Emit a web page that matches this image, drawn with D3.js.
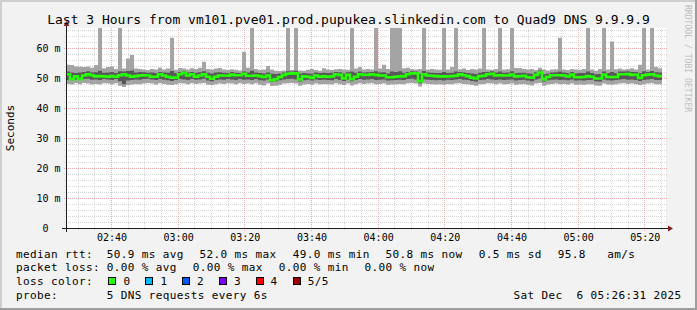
<!DOCTYPE html>
<html><head><meta charset="utf-8">
<script src="https://cdn.jsdelivr.net/npm/d3@7"></script>
<style>
html,body{margin:0;padding:0;background:#f2f2f2;}
svg{display:block;}
text{font-family:'DejaVu Sans Mono',monospace;white-space:pre;}
</style></head><body>
<svg id="c" width="697" height="310"></svg>
<script>
// ---------- data ----------
const titleText = "Last 3 Hours from vm101.pve01.prod.pupukea.slinkedin.com to Quad9 DNS 9.9.9.9";
const yAxisTitle = "Seconds";
const watermark = "RRDTOOL / TOBI OETIKER";
const startTime = new Date(2025, 11, 6, 2, 26, 31);
const endTime = new Date(2025, 11, 6, 5, 26, 31);
const stepSeconds = 72;
const yMax = 200 / 3;

// median rtt per step (ms)
const median = [
51.4,49.8,50.7,49.8,51.0,51.4,51.1,50.7,50.8,50.7,
50.6,50.8,50.6,51.1,51.4,51.0,50.6,50.8,51.0,51.1,
51.0,50.6,50.6,51.4,51.0,50.6,50.3,50.3,51.4,51.9,
51.0,51.4,50.6,51.0,51.4,50.6,49.9,50.6,51.0,51.0,
50.9,51.3,51.1,51.1,51.6,50.9,50.9,51.0,50.8,50.5,
51.0,49.4,49.8,50.5,51.2,51.6,51.7,51.7,49.7,50.7,
50.6,50.2,51.0,50.6,50.7,50.6,50.7,51.4,51.2,50.0,
51.2,49.8,50.6,51.4,51.2,51.2,51.4,51.2,51.0,51.0,
50.4,50.4,50.6,50.7,50.8,51.4,51.7,51.7,49.1,51.4,
51.0,50.9,50.8,50.7,50.7,50.7,50.8,50.9,51.4,51.1,
50.8,50.3,50.0,50.8,50.9,51.4,51.6,51.0,51.1,51.0,
51.0,51.3,50.7,50.8,50.9,50.4,50.3,51.2,52.0,49.7,
50.5,51.1,51.1,51.1,51.0,50.7,51.3,50.4,50.4,50.5,
50.8,50.6,50.0,50.0,51.3,50.5,50.5,50.5,51.4,51.4,
51.5,51.2,51.3,50.2,51.1,51.3,51.4,51.0,50.8];

// fastest reply per step (ms)
const ping1 = [
48.2,48.0,48.4,48.1,48.5,48.3,48.0,48.2,48.0,48.4,
48.3,48.1,48.4,47.6,47.2,47.8,48.0,48.2,48.1,48.3,
48.5,48.3,48.0,48.4,48.2,47.9,47.8,48.1,48.4,48.3,
48.1,48.4,48.2,48.3,48.5,47.9,47.8,48.1,48.3,48.2,
48.4,48.3,48.1,48.4,48.2,48.3,48.1,48.4,47.9,47.7,
48.3,47.5,47.6,47.9,48.3,48.4,48.5,48.3,47.6,48.0,
48.2,47.9,48.3,48.1,48.2,48.1,48.0,48.4,48.1,47.8,
48.3,47.7,48.1,48.4,48.2,48.3,48.4,48.1,48.2,48.3,
47.9,48.0,48.1,48.2,48.1,48.4,48.5,48.3,47.3,48.3,
48.2,48.1,48.0,48.1,47.9,48.2,48.1,48.3,48.4,48.2,
48.1,47.8,47.6,48.1,48.2,48.4,48.3,48.1,48.3,48.1,
48.2,48.3,47.9,48.1,48.2,47.9,47.7,48.3,48.5,47.6,
48.0,48.2,48.3,48.1,48.2,48.0,48.3,47.9,48.0,47.9,
48.1,48.1,47.7,47.6,48.3,48.0,47.9,48.1,48.3,48.4,
48.2,48.3,48.1,47.8,48.1,48.3,48.4,48.1,48.1];

// second fastest reply per step (ms)
const ping2 = [
49.5,49.4,49.7,49.5,49.8,49.9,49.6,49.7,49.5,49.8,
49.7,49.5,49.8,49.1,48.1,49.3,49.5,49.7,49.6,49.8,
49.9,49.7,49.5,49.8,49.6,49.4,49.2,49.5,49.8,49.7,
49.5,49.8,49.6,49.7,49.9,49.3,49.1,49.5,49.7,49.6,
49.8,49.7,49.5,49.8,49.6,49.7,49.5,49.8,49.4,49.3,
49.7,48.9,49.1,49.4,49.7,49.8,49.9,49.7,49.0,49.4,
49.6,49.3,49.7,49.5,49.6,49.5,49.4,49.8,49.5,49.2,
49.7,49.1,49.5,49.8,49.6,49.7,49.8,49.5,49.6,49.7,
49.3,49.4,49.5,49.6,49.5,49.8,49.9,49.7,48.4,49.7,
49.6,49.5,49.4,49.5,49.3,49.6,49.5,49.7,49.8,49.6,
49.5,49.2,49.0,49.5,49.6,49.8,49.7,49.5,49.7,49.5,
49.6,49.7,49.3,49.5,49.6,49.3,49.1,49.7,49.9,49.0,
49.4,49.6,49.7,49.5,49.6,49.4,49.7,49.3,49.4,49.3,
49.5,49.5,49.1,49.0,49.7,49.4,49.3,49.5,49.7,49.8,
49.6,49.7,49.5,49.2,49.5,49.7,49.8,49.5,49.5];

// fourth reply per step (ms)
const ping4 = [
52.3,52.0,51.8,52.0,52.2,52.4,52.0,52.1,52.6,51.9,
52.0,52.2,51.8,52.4,52.3,52.5,52.7,52.0,52.2,52.1,
51.9,52.0,51.8,52.2,52.0,51.9,52.5,51.8,52.2,52.4,
52.0,52.2,51.9,52.1,52.4,51.9,51.7,52.0,52.1,51.9,
51.8,52.2,51.9,51.8,52.3,52.0,52.6,52.0,51.8,51.7,
52.0,51.6,51.5,51.7,52.0,52.4,52.3,52.6,51.6,51.8,
51.7,51.6,52.0,51.8,51.9,51.8,51.9,52.2,52.1,51.7,
52.1,52.3,51.9,52.3,52.0,52.1,52.2,52.4,52.0,52.1,
51.7,52.3,52.2,52.4,51.9,52.2,52.4,52.3,51.5,52.5,
52.0,51.9,51.8,51.8,52.2,51.8,51.9,52.3,52.2,52.0,
51.8,51.7,51.5,51.9,52.2,52.2,52.4,52.0,52.3,51.9,
52.0,52.4,51.8,51.9,51.9,51.7,51.6,52.1,52.7,51.4,
51.7,52.0,52.1,52.3,52.0,51.8,52.2,51.7,51.8,51.8,
52.3,51.8,51.4,51.5,52.3,51.8,52.2,51.8,52.3,52.3,
52.4,52.2,52.2,51.8,52.4,52.2,52.5,52.1,52.0];

// slowest reply per step (ms); spikes run past the top of the graph
const ping5 = [
54.6,54.5,54.0,53.9,53.8,54.0,53.6,54.5,70,53.4,
53.8,54.0,53.2,70,53.3,56.7,57.8,53.3,53.2,53.0,
52.8,53.2,53.0,53.6,53.0,53.3,63.6,52.9,53.5,53.3,
53.0,53.4,53.2,53.6,55.6,53.2,53.0,53.3,53.5,53.0,
52.8,53.1,52.9,52.7,58.9,53.6,70,53.2,52.8,53.0,
54.2,53.0,52.6,52.5,52.7,70,52.8,70,52.7,52.6,
52.9,53.2,52.8,52.6,53.4,53.0,52.8,53.1,53.2,53.0,
52.9,70,53.3,53.8,53.0,53.2,53.0,70,53.3,54.6,
53.2,70,70,70,53.4,53.6,53.2,53.0,53.2,70,
53.0,53.2,53.0,52.9,70,53.0,53.8,70,53.1,53.3,
52.8,53.2,53.0,53.3,70,53.0,52.9,53.2,70,53.0,
53.1,70,53.5,53.5,53.2,53.0,53.2,52.8,53.6,53.0,
52.7,53.0,53.1,63.6,53.0,52.8,53.2,53.0,52.9,53.2,
70,53.0,52.6,53.2,70,53.0,62.3,53.1,53.3,53.0,
53.2,53.4,53.0,54.6,70,53.0,70,53.8,53.4];

const rttHeader = "median rtt:";
const rttStats = ["50.9 ms avg","52.0 ms max","49.0 ms min","50.8 ms now","0.5 ms sd","95.8","am/s"];
const lossHeader = "packet loss:";
const lossStats = ["0.00 % avg","0.00 % max","0.00 % min","0.00 % now"];
const colorHeader = "loss color:";
const lossLabels = ["0","1","2","3","4","5/5"];
const probeHeader = "probe:";
const probeText = "5 DNS requests every 6s";
const dateText = "Sat Dec  6 05:26:31 2025";

// ---------- layout / style ----------
const lossColors = ["#26ff00","#00b8ff","#0059ff","#7e00ff","#ff0000","#a10000"];
const rttX = [106.8,199.5,292.8,385.5,478.8,557.8,607.2];
const lossX = [106.8,192.8,278.8,364.5];
const boxX = [108.5,145.5,182.5,219.5,256.5,293.5];
const boxLabelX = [123.5,160.5,197,234,270.5,307.8];
const lineY = [257.5,271.3,285,298.8];

const W = 697, H = 310;
const X0 = 66, X1 = 666, Y0 = 228, Y1 = 28;

const svg = d3.select("#c");
// background and 3D border
svg.append("rect").attr("x",0).attr("y",0).attr("width",W).attr("height",H).attr("fill","#f2f2f2");
svg.append("path").attr("d",`M0,0H${W}V2H2V${H}H0Z`).attr("fill","#cfcfcf");
svg.append("path").attr("d",`M${W},${H}H0V${H-2}H${W-2}V0H${W}Z`).attr("fill","#9e9e9e");
// canvas
svg.append("rect").attr("x",X0).attr("y",Y1).attr("width",X1-X0).attr("height",Y0-Y1).attr("fill","#ffffff");

const x = d3.scaleTime().domain([startTime,endTime]).range([X0+0.5, X1+0.5]);
const y = d3.scaleLinear().domain([0,yMax]).range([Y0+0.5, Y1+0.5]);

// grid
const g = svg.append("g");
const minorY = y.ticks(35), majorY = y.ticks(7);
const minorX = x.ticks(d3.timeMinute.every(5)), majorX = x.ticks(d3.timeMinute.every(20));
const px = v => Math.round(v - 0.5) + 0.5;
minorY.filter(v => !majorY.includes(v) && v > 0).forEach(v => {
  g.append("line").attr("x1",X0-2).attr("x2",X1+2).attr("y1",px(y(v))).attr("y2",px(y(v)))
   .attr("stroke","#d6d6d6").attr("stroke-dasharray","1,1");
});
const majXs = majorX.map(d => +d);
minorX.filter(d => !majXs.includes(+d)).forEach(d => {
  g.append("line").attr("y1",Y0+2).attr("y2",Y1).attr("x1",px(x(d))).attr("x2",px(x(d)))
   .attr("stroke","#d6d6d6").attr("stroke-dasharray","1,1");
});
majorY.filter(v => v > 0).forEach(v => {
  g.append("line").attr("x1",X0-2).attr("x2",X1+2).attr("y1",px(y(v))).attr("y2",px(y(v)))
   .attr("stroke","#f0a8a8").attr("stroke-dasharray","1,1");
});
majorX.forEach(d => {
  g.append("line").attr("y1",Y0+3).attr("y2",Y1).attr("x1",px(x(d))).attr("x2",px(x(d)))
   .attr("stroke","#f0a8a8").attr("stroke-dasharray","1,1");
});

// data
const pts = median.map((m,i) => ({
  t: new Date(+startTime + i*stepSeconds*1000),
  m, p1: ping1[i], p2: ping2[i], p4: ping4[i], p5: ping5[i]
}));
const last = pts[pts.length-1];
pts.push(Object.assign({}, last, {t: new Date(+last.t + stepSeconds*1000)}));

svg.append("clipPath").attr("id","clip").append("rect")
  .attr("x",X0).attr("y",Y1).attr("width",X1-X0+1).attr("height",Y0-Y1);
const dg = svg.append("g").attr("clip-path","url(#clip)");
const xs = d => x(d.t) - 0.5;
dg.append("path").datum(pts).attr("fill","#a4a4a4")
  .attr("d", d3.area().curve(d3.curveStepAfter).x(xs).y0(d => y(d.p1)).y1(d => y(d.p5)));
dg.append("path").datum(pts).attr("fill","#585858")
  .attr("d", d3.area().curve(d3.curveStepAfter).x(xs).y0(d => y(d.p2)).y1(d => y(d.p4)));
dg.append("path").datum(pts).attr("fill","none").attr("stroke",lossColors[0]).attr("stroke-width",2.6)
  .attr("d", d3.line().curve(d3.curveStepAfter).x(xs).y(d => y(d.m)));

// axes lines + arrows
svg.append("line").attr("x1",X0-4).attr("x2",X1+4).attr("y1",Y0+0.5).attr("y2",Y0+0.5).attr("stroke","#1f1f1f");
svg.append("line").attr("x1",X0+0.5).attr("x2",X0+0.5).attr("y1",Y0+4).attr("y2",Y1-4).attr("stroke","#1f1f1f");
svg.append("path").attr("d",`M${X1+2},${Y0+0.5-3}L${X1+7},${Y0+0.5}L${X1+2},${Y0+0.5+3}Z`).attr("fill","#801f1f");
svg.append("path").attr("d",`M${X0+0.5-3},${Y1-2}L${X0+0.5},${Y1-7}L${X0+0.5+3},${Y1-2}Z`).attr("fill","#801f1f");

// axis labels (d3 axes, no lines)
const xa = svg.append("g").attr("transform",`translate(0,${Y0+0.5})`)
  .call(d3.axisBottom(x).ticks(d3.timeMinute.every(20)).tickFormat(d3.timeFormat("%H:%M")).tickSize(0).tickPadding(5));
const ya = svg.append("g").attr("transform",`translate(${X0+0.5},0)`)
  .call(d3.axisLeft(y).ticks(7).tickFormat(v => v === 0 ? "0  " : d3.format("d")(v) + " m").tickSize(0).tickPadding(6));
[xa, ya].forEach(a => {
  a.select(".domain").remove();
  a.selectAll("text").attr("font-family","'DejaVu Sans Mono',monospace").attr("font-size",10).attr("fill","#000");
});

// title, vertical labels
svg.append("text").attr("x",W/2).attr("y",23.5).attr("text-anchor","middle").attr("font-size",13).attr("fill","#000").text(titleText);
svg.append("text").attr("transform",`translate(13.5,${(Y0+Y1)/2}) rotate(-90)`).attr("text-anchor","middle")
  .attr("font-size",11).attr("fill","#000").text(yAxisTitle);
svg.append("text").attr("transform",`translate(684.5,5) rotate(90)`).attr("text-anchor","start")
  .attr("font-size",8.1).attr("fill","#bdbdbd").text(watermark);

// legend
const lg = svg.append("g").attr("font-size",11).attr("letter-spacing","0.38px").attr("fill","#000");
lg.append("text").attr("x",16).attr("y",lineY[0]).text(rttHeader);
rttStats.forEach((s,i) => lg.append("text").attr("x",rttX[i]).attr("y",lineY[0]).text(s));
lg.append("text").attr("x",16).attr("y",lineY[1]).text(lossHeader);
lossStats.forEach((s,i) => lg.append("text").attr("x",lossX[i]).attr("y",lineY[1]).text(s));
lg.append("text").attr("x",16).attr("y",lineY[2]).text(colorHeader);
lossLabels.forEach((s,i) => {
  lg.append("rect").attr("x",boxX[i]).attr("y",lineY[2]-7.5).attr("width",7).attr("height",7)
    .attr("fill",lossColors[i]).attr("stroke","#000").attr("stroke-width",1);
  lg.append("text").attr("x",boxLabelX[i]).attr("y",lineY[2]).text(s);
});
lg.append("text").attr("x",16).attr("y",lineY[3]).text(probeHeader);
lg.append("text").attr("x",106.8).attr("y",lineY[3]).text(probeText);
lg.append("text").attr("x",681.5).attr("y",lineY[3]).attr("text-anchor","end").text(dateText);
</script>
</body></html>
